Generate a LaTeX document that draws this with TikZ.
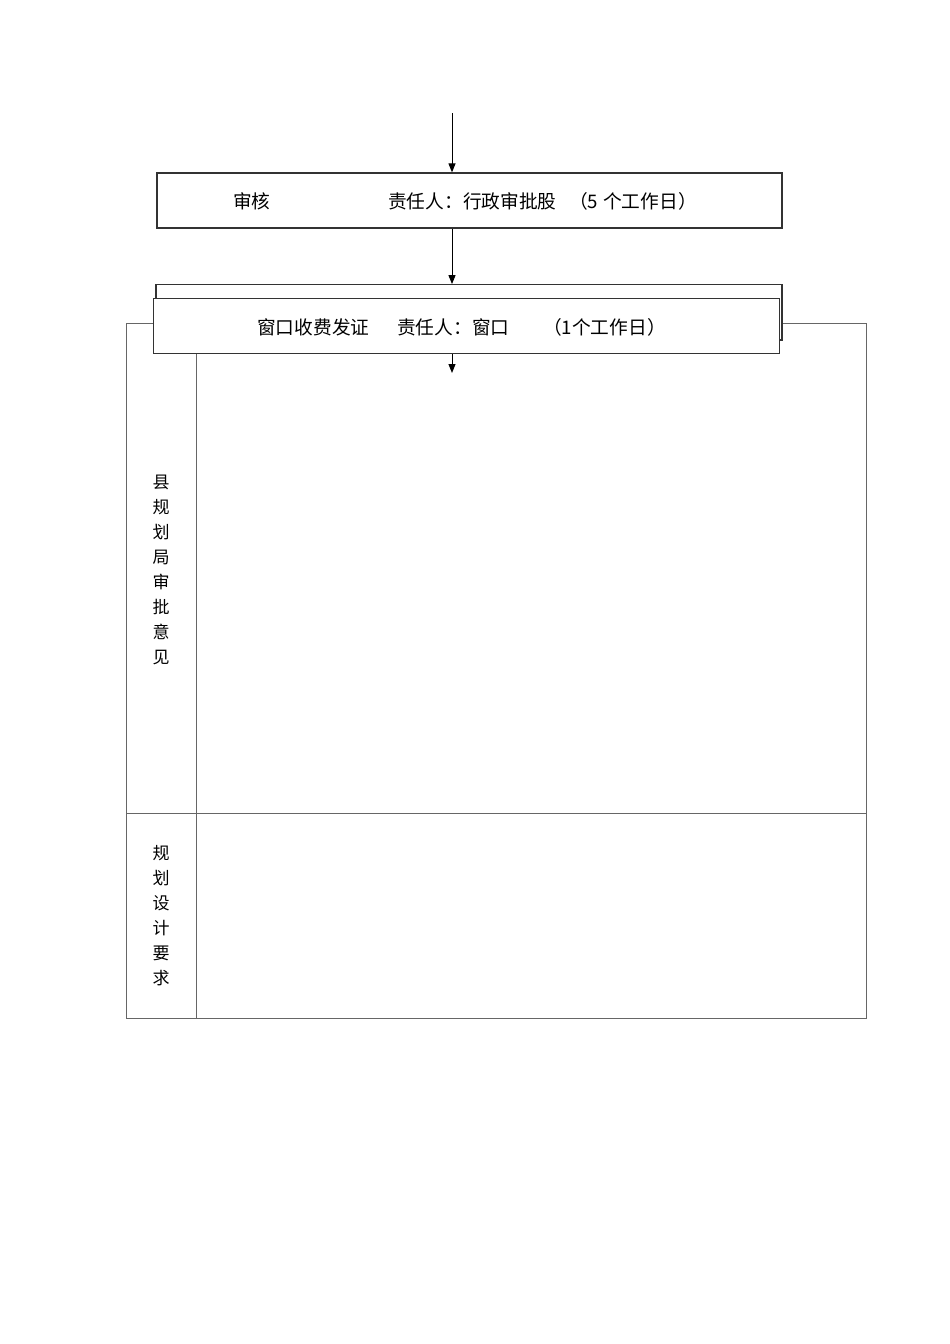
\documentclass[tikz,border=0pt]{standalone}
\usepackage{fontspec}
\newfontfamily\cjk{Noto Sans CJK SC}
\usetikzlibrary{arrows.meta}
\begin{document}
\begin{tikzpicture}[x=1pt,y=-1pt,
  stepbox/.style={draw=black!80,line width=1.2pt,fill=white},
  tbl/.style={draw=black!60,line width=0.9pt},
  txt/.style={font=\cjk\fontsize{18.7}{20}\selectfont,inner sep=0pt,anchor=west},
  vtxt/.style={font=\cjk\fontsize{17}{25}\selectfont,inner sep=0pt,align=center},
  arr/.style={draw=black,line width=1pt,-{Triangle[length=9pt,width=7pt]}}]
\useasboundingbox (0,0) rectangle (950,1344);
% table
\draw[tbl] (126,323) rectangle (866,1018);
\draw[tbl] (126,813) -- (866,813);
\draw[tbl] (196,323) -- (196,1018);
\node[vtxt] (lab1) at (161,569.5) {县\\规\\划\\局\\审\\批\\意\\见};
\node[vtxt] (lab2) at (161,916) {规\\划\\设\\计\\要\\求};
% boxes
\node[stepbox,minimum width=625pt,minimum height=55pt,inner sep=0pt] (b1) at (469.5,200.5) {};
\node[txt] (t1a) at (233,201) {审核};
\node[txt] (t1b) at (388,201) {责任人：行政审批股};
\node[txt] (t1c) at (569,201) {（5\kern5pt 个工作日）};
\node[stepbox,minimum width=626pt,minimum height=55.3pt,inner sep=0pt] (b2) at (469,312.35) {};
\node[stepbox,minimum width=626pt,minimum height=55pt,inner sep=0pt] (b3) at (466.3,326.2) {};
\node[txt] (t3a) at (257,327) {窗口收费发证};
\node[txt] (t3b) at (397,327) {责任人：窗口};
\node[txt] (t3c) at (543,327) {（1个工作日）};
% arrows
\coordinate (top) at (452,113);
\coordinate (bot) at (452,373);
\draw[arr] (top) -- (top |- b1.north);
\draw[arr] (b1.south -| top) -- (top |- b2.north);
\draw[arr] (b3.south -| top) -- (bot);
\end{tikzpicture}
\end{document}
